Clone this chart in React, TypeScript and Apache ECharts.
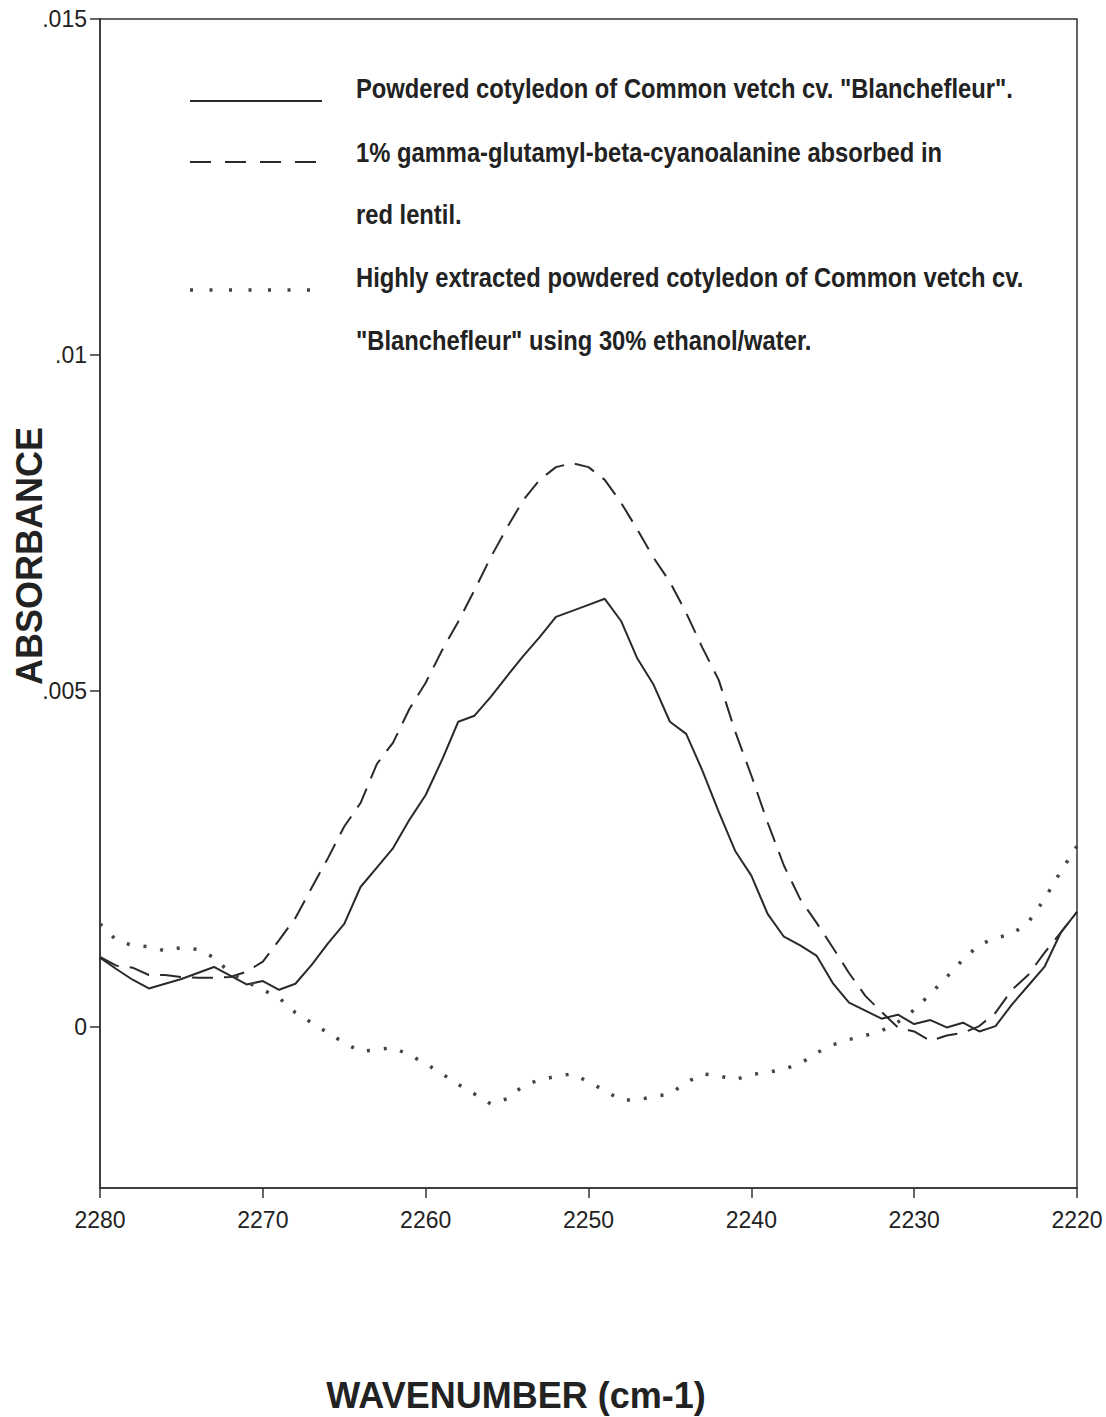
import React, { useEffect, useRef } from 'react';
import * as echarts from 'echarts';

// Wavenumber (cm-1), sampled every 1 cm-1 from 2280 down to 2220
const wavenumbers = [
  2280, 2279, 2278, 2277, 2276, 2275, 2274, 2273, 2272, 2271,
  2270, 2269, 2268, 2267, 2266, 2265, 2264, 2263, 2262, 2261,
  2260, 2259, 2258, 2257, 2256, 2255, 2254, 2253, 2252, 2251,
  2250, 2249, 2248, 2247, 2246, 2245, 2244, 2243, 2242, 2241,
  2240, 2239, 2238, 2237, 2236, 2235, 2234, 2233, 2232, 2231,
  2230, 2229, 2228, 2227, 2226, 2225, 2224, 2223, 2222, 2221,
  2220,
];

// Powdered cotyledon of Common vetch cv. "Blanchefleur" (solid)
const powderedCotyledon = [
  0.00103, 0.00086, 0.0007, 0.00057, 0.00064, 0.00071, 0.0008, 0.00089, 0.00076, 0.00063,
  0.00068, 0.00055, 0.00064, 0.00092, 0.00124, 0.00153, 0.00208, 0.00237, 0.00266, 0.00308,
  0.00345, 0.00397, 0.00454, 0.00463, 0.00491, 0.00522, 0.00552, 0.0058, 0.0061, 0.00619,
  0.00628, 0.00637, 0.00604, 0.00548, 0.00509, 0.00454, 0.00436, 0.00381, 0.0032, 0.00262,
  0.00225, 0.00168, 0.00134, 0.00121, 0.00106, 0.00065, 0.00036, 0.00024, 0.00012, 0.00018,
  0.00004, 0.0001, -0.00001, 0.00006, -0.00007, 0.00001, 0.00033, 0.00061, 0.00089, 0.0014,
  0.00171,
];

// 1% gamma-glutamyl-beta-cyanoalanine absorbed in red lentil (dashed)
const lentilStandard = [
  0.00104, 0.00091, 0.00088, 0.00077, 0.00077, 0.00074, 0.00073, 0.00073, 0.00074, 0.00082,
  0.00097, 0.00129, 0.00162, 0.00207, 0.00251, 0.00298, 0.00333, 0.00391, 0.00423, 0.00473,
  0.00512, 0.0056, 0.00603, 0.0065, 0.00699, 0.00743, 0.00784, 0.00814, 0.00833, 0.00839,
  0.00833, 0.00814, 0.0078, 0.0074, 0.00698, 0.00662, 0.00616, 0.00564, 0.00516, 0.0044,
  0.00374, 0.00304, 0.0024, 0.0019, 0.00155, 0.00118, 0.0008, 0.00046, 0.00022, -0.00001,
  -0.00007, -0.00021, -0.00013, -0.00009, 0.00001, 0.00021, 0.00055, 0.00077, 0.0011, 0.0014,
  0.00171,
];

// Highly extracted powdered cotyledon, 30% ethanol/water (dotted)
const extractedCotyledon = [
  0.00153, 0.00129, 0.00121, 0.00119, 0.00113, 0.00118, 0.00115, 0.00103, 0.0008, 0.00067,
  0.00055, 0.00043, 0.00021, 0.00006, -0.00009, -0.00024, -0.00037, -0.00034, -0.00031, -0.00042,
  -0.00055, -0.0007, -0.00086, -0.001, -0.00115, -0.00107, -0.00088, -0.00079, -0.00074, -0.0007,
  -0.00082, -0.00095, -0.00109, -0.00109, -0.00104, -0.001, -0.00083, -0.0007, -0.00073, -0.00079,
  -0.00071, -0.00068, -0.00063, -0.00055, -0.00039, -0.00027, -0.00019, -0.00013, -0.00006, 0.00007,
  0.00025, 0.00049, 0.00074, 0.001, 0.00122, 0.00132, 0.00138, 0.00155, 0.0019, 0.00231,
  0.00269,
];

const yLabelValues = [0, 0.005, 0.01, 0.015];
const xMin = 2220;
const xMax = 2280;
const xInterval = 10;
const yMin = -0.0024;
const yMax = 0.015;

const legendTextLines = [
  'Powdered cotyledon of Common vetch cv. "Blanchefleur".',
  '1% gamma-glutamyl-beta-cyanoalanine absorbed in',
  'red lentil.',
  'Highly extracted powdered cotyledon of Common vetch cv.',
  '"Blanchefleur" using 30% ethanol/water.',
];

const yTitle = 'ABSORBANCE';
const xTitle = 'WAVENUMBER (cm-1)';

const INK = '#222';
const FONT = '"Liberation Sans", Arial, Helvetica, sans-serif';

function toPairs(values: number[]) {
  return wavenumbers.map((w, i) => [w, values[i]]);
}

export default function App() {
  const ref = useRef<HTMLDivElement>(null);

  useEffect(() => {
    document.body.style.margin = '0';
    document.body.style.overflow = 'hidden';
    if (!ref.current) return;
    const chart = echarts.init(ref.current, null, { renderer: 'svg' });

    const legendTextY = [88, 152, 214, 277, 340];

    const option: any = {
      animation: false,
      backgroundColor: '#ffffff',
      grid: {
        left: 100,
        right: 29,
        top: 19,
        bottom: 229,
        show: true,
        borderColor: '#333',
        borderWidth: 1.5,
        backgroundColor: 'transparent',
      },
      xAxis: {
        type: 'value',
        min: xMin,
        max: xMax,
        interval: xInterval,
        inverse: true,
        axisLine: { show: true, onZero: false, lineStyle: { color: '#333', width: 1.5 } },
        axisTick: { show: true, length: 10, lineStyle: { color: '#333', width: 1.5 } },
        axisLabel: {
          color: INK,
          fontSize: 23,
          fontFamily: FONT,
          margin: 20,
          formatter: (v: number) => String(v),
        },
        splitLine: { show: false },
      },
      yAxis: {
        type: 'value',
        min: yMin,
        max: yMax,
        axisLine: { show: true, onZero: false, lineStyle: { color: '#333', width: 1.5 } },
        axisTick: {
          show: true,
          length: 10,
          customValues: yLabelValues,
          lineStyle: { color: '#333', width: 1.5 },
        },
        axisLabel: {
          customValues: yLabelValues,
          color: INK,
          fontSize: 23,
          fontFamily: FONT,
          margin: 13,
          formatter: (v: number) => (v === 0 ? '0' : String(v).replace(/^0/, '')),
        },
        splitLine: { show: false },
      },
      series: [
        {
          name: legendTextLines[0],
          type: 'line',
          data: toPairs(powderedCotyledon),
          showSymbol: false,
          lineStyle: { color: '#2a2a2a', width: 2, type: 'solid' },
        },
        {
          name: legendTextLines[1],
          type: 'line',
          data: toPairs(lentilStandard),
          showSymbol: false,
          lineStyle: { color: '#2a2a2a', width: 2, type: [21, 11] },
        },
        {
          name: legendTextLines[3],
          type: 'line',
          data: toPairs(extractedCotyledon),
          showSymbol: false,
          lineStyle: { color: '#444', width: 3.5, type: [3, 14] },
        },
      ],
      graphic: [
        {
          type: 'line',
          shape: { x1: 190, y1: 101, x2: 322, y2: 101 },
          style: { stroke: '#2a2a2a', lineWidth: 2.2 },
        },
        {
          type: 'line',
          shape: { x1: 190, y1: 162, x2: 318, y2: 162 },
          style: { stroke: '#2a2a2a', lineWidth: 2.2, lineDash: [21, 14] },
        },
        {
          type: 'line',
          shape: { x1: 190, y1: 290, x2: 312, y2: 290 },
          style: { stroke: '#444', lineWidth: 3.5, lineDash: [3, 16.5] },
        },
        ...legendTextLines.map((t, i) => ({
          type: 'text',
          x: 356,
          y: legendTextY[i],
          scaleX: 0.88,
          style: {
            text: t,
            fill: INK,
            font: `bold 27px ${FONT}`,
            textAlign: 'left',
            textVerticalAlign: 'middle',
          },
        })),
        {
          type: 'text',
          x: 29,
          y: 556,
          rotation: Math.PI / 2,
          style: {
            text: yTitle,
            fill: INK,
            font: `bold 36px ${FONT}`,
            textAlign: 'center',
            textVerticalAlign: 'middle',
          },
        },
        {
          type: 'text',
          x: 516,
          y: 1395,
          style: {
            text: xTitle,
            fill: INK,
            font: `bold 36px ${FONT}`,
            textAlign: 'center',
            textVerticalAlign: 'middle',
          },
        },
      ],
    };

    chart.setOption(option);
    return () => {
      chart.dispose();
    };
  }, []);

  return <div ref={ref} style={{ width: 1106, height: 1417 }} />;
}
